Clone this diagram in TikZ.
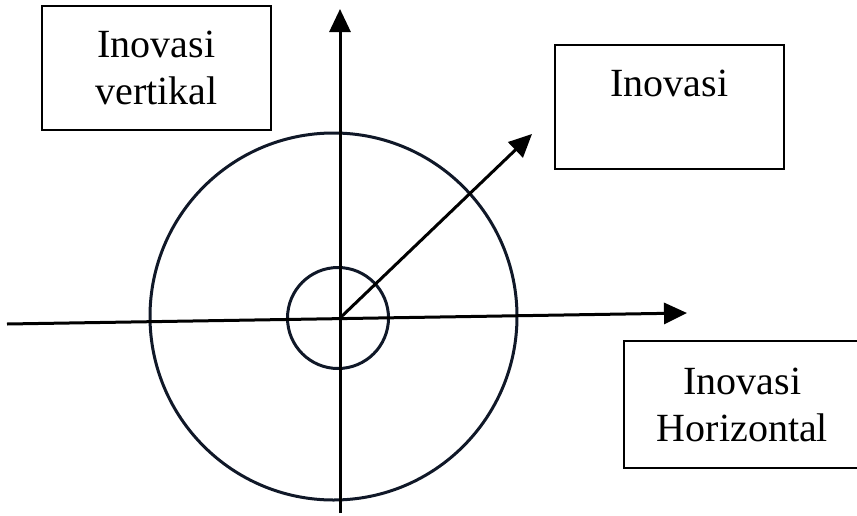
\documentclass[tikz,border=0pt]{standalone}
\usepackage{fontspec}
\setmainfont{Liberation Serif}
\usetikzlibrary{arrows.meta}

\definecolor{ringcol}{RGB}{16,24,40}

\begin{document}
\begin{tikzpicture}[
		x=1pt, y=-1pt,
		>={Triangle[length=23pt, width=21pt]}, line width=3pt,
		labelbox/.style={draw, line width=2.7pt, inner sep=0pt, align=center,
			font=\fontsize{40}{47}\selectfont},
		labeltext/.style={inner sep=0pt, align=center, font=\fontsize{40}{47}\selectfont},
		ring/.style={circle, draw=ringcol, line width=3pt, inner sep=0pt}
		]
		
		\useasboundingbox (0,0) rectangle (857,515);
		
		% Rings round the origin
		\node[ring, minimum size=367pt] (outer) at (333.5,316.5) {};
		\node[ring, minimum size=101pt] (inner) at (338,318) {};
		
		% Axes
		\coordinate (o) at (340,318);
		\coordinate (west) at (7,324);
		\coordinate (east) at (687,313);
		\coordinate (south) at (340,513);
		\coordinate (north) at (340,9);
		\coordinate (ne) at (532,134);
		
		\draw[->] (west) -- (east);
		\draw[->] (south) -- (north);
		\draw[->] (o) -- (ne);
		
		% Labels
		\node[labelbox, minimum width=229pt, minimum height=124pt] (vert) at (156.5,68) {Inovasi\\vertikal};
		\node[labelbox, minimum width=229pt, minimum height=124pt] (inov) at (669.5,107) {Inovasi\\\mbox{}};
		% this box runs off the right edge
		\node[labeltext] (horz) at (742.5,404.5) {Inovasi\\Horizontal};
		\draw[line width=2.7pt] (624,341) rectangle (880,468);
		
	\end{tikzpicture}
\end{document}
